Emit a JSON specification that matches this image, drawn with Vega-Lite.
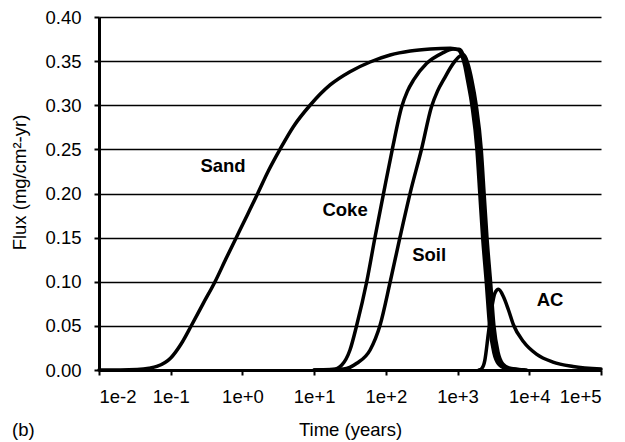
{
  "$schema": "https://vega.github.io/schema/vega-lite/v6.json",
  "width": 502,
  "height": 353,
  "autosize": "none",
  "padding": {"left": 99, "top": 17, "right": 24, "bottom": 72},
  "background": "white",
  "config": {"view": {"stroke": null}, "font": "Liberation Sans", "text": {"font": "Liberation Sans"}},
  "title": {"text": "(b)", "orient": "bottom", "anchor": "start", "frame": "group", "dx": -87, "offset": -18, "fontSize": 18.5, "fontWeight": "normal", "color": "black", "font": "Liberation Sans"},
  "datasets": {
    "curves": [
      {"series": "Sand", "t": 0.01, "flux": 0},
      {"series": "Sand", "t": 0.02, "flux": 0},
      {"series": "Sand", "t": 0.034, "flux": 0.0005},
      {"series": "Sand", "t": 0.05, "flux": 0.002},
      {"series": "Sand", "t": 0.064, "flux": 0.004},
      {"series": "Sand", "t": 0.1, "flux": 0.0136},
      {"series": "Sand", "t": 0.141, "flux": 0.03},
      {"series": "Sand", "t": 0.196, "flux": 0.051},
      {"series": "Sand", "t": 0.282, "flux": 0.075},
      {"series": "Sand", "t": 0.415, "flux": 0.1},
      {"series": "Sand", "t": 0.589, "flux": 0.126},
      {"series": "Sand", "t": 0.832, "flux": 0.151},
      {"series": "Sand", "t": 1.175, "flux": 0.176},
      {"series": "Sand", "t": 1.633, "flux": 0.2},
      {"series": "Sand", "t": 2.296, "flux": 0.2255},
      {"series": "Sand", "t": 3.34, "flux": 0.25},
      {"series": "Sand", "t": 5.13, "flux": 0.2757},
      {"series": "Sand", "t": 8.77, "flux": 0.3},
      {"series": "Sand", "t": 16.7, "flux": 0.323},
      {"series": "Sand", "t": 31.6, "flux": 0.338},
      {"series": "Sand", "t": 60.3, "flux": 0.349},
      {"series": "Sand", "t": 115, "flux": 0.357},
      {"series": "Sand", "t": 219, "flux": 0.3615},
      {"series": "Sand", "t": 417, "flux": 0.3637},
      {"series": "Sand", "t": 794, "flux": 0.3645},
      {"series": "Sand", "t": 1023, "flux": 0.3626},
      {"series": "Sand", "t": 1150, "flux": 0.356},
      {"series": "Sand", "t": 1260, "flux": 0.345},
      {"series": "Sand", "t": 1380, "flux": 0.328},
      {"series": "Sand", "t": 1585, "flux": 0.3},
      {"series": "Sand", "t": 1862, "flux": 0.25},
      {"series": "Sand", "t": 2042, "flux": 0.2},
      {"series": "Sand", "t": 2239, "flux": 0.15},
      {"series": "Sand", "t": 2512, "flux": 0.1},
      {"series": "Sand", "t": 2799, "flux": 0.05},
      {"series": "Sand", "t": 3199, "flux": 0.02},
      {"series": "Sand", "t": 3715, "flux": 0.007},
      {"series": "Sand", "t": 4677, "flux": 0.002},
      {"series": "Sand", "t": 7943, "flux": 0},
      {"series": "Coke", "t": 10, "flux": 0},
      {"series": "Coke", "t": 18.2, "flux": 0.0005},
      {"series": "Coke", "t": 24.3, "flux": 0.0057},
      {"series": "Coke", "t": 31.6, "flux": 0.0227},
      {"series": "Coke", "t": 39.3, "flux": 0.051},
      {"series": "Coke", "t": 54.1, "flux": 0.1},
      {"series": "Coke", "t": 70.8, "flux": 0.151},
      {"series": "Coke", "t": 93.3, "flux": 0.201},
      {"series": "Coke", "t": 123, "flux": 0.25},
      {"series": "Coke", "t": 166, "flux": 0.298},
      {"series": "Coke", "t": 200, "flux": 0.316},
      {"series": "Coke", "t": 245, "flux": 0.329},
      {"series": "Coke", "t": 372, "flux": 0.3475},
      {"series": "Coke", "t": 603, "flux": 0.3588},
      {"series": "Coke", "t": 871, "flux": 0.3637},
      {"series": "Coke", "t": 1050, "flux": 0.3635},
      {"series": "Coke", "t": 1200, "flux": 0.357},
      {"series": "Coke", "t": 1318, "flux": 0.345},
      {"series": "Coke", "t": 1479, "flux": 0.328},
      {"series": "Coke", "t": 1698, "flux": 0.3},
      {"series": "Coke", "t": 1995, "flux": 0.25},
      {"series": "Coke", "t": 2188, "flux": 0.2},
      {"series": "Coke", "t": 2399, "flux": 0.15},
      {"series": "Coke", "t": 2692, "flux": 0.1},
      {"series": "Coke", "t": 2999, "flux": 0.05},
      {"series": "Coke", "t": 3428, "flux": 0.02},
      {"series": "Coke", "t": 3981, "flux": 0.007},
      {"series": "Coke", "t": 5012, "flux": 0.002},
      {"series": "Coke", "t": 8511, "flux": 0},
      {"series": "Soil", "t": 10, "flux": 0},
      {"series": "Soil", "t": 25.7, "flux": 0.001},
      {"series": "Soil", "t": 39.3, "flux": 0.0076},
      {"series": "Soil", "t": 60.3, "flux": 0.0227},
      {"series": "Soil", "t": 83.2, "flux": 0.051},
      {"series": "Soil", "t": 115, "flux": 0.1},
      {"series": "Soil", "t": 158, "flux": 0.151},
      {"series": "Soil", "t": 219, "flux": 0.201},
      {"series": "Soil", "t": 316, "flux": 0.251},
      {"series": "Soil", "t": 432, "flux": 0.298},
      {"series": "Soil", "t": 525, "flux": 0.316},
      {"series": "Soil", "t": 645, "flux": 0.3295},
      {"series": "Soil", "t": 871, "flux": 0.3475},
      {"series": "Soil", "t": 1072, "flux": 0.3555},
      {"series": "Soil", "t": 1230, "flux": 0.357},
      {"series": "Soil", "t": 1380, "flux": 0.348},
      {"series": "Soil", "t": 1585, "flux": 0.328},
      {"series": "Soil", "t": 1820, "flux": 0.3},
      {"series": "Soil", "t": 2138, "flux": 0.25},
      {"series": "Soil", "t": 2344, "flux": 0.2},
      {"series": "Soil", "t": 2570, "flux": 0.15},
      {"series": "Soil", "t": 2884, "flux": 0.1},
      {"series": "Soil", "t": 3214, "flux": 0.05},
      {"series": "Soil", "t": 3673, "flux": 0.02},
      {"series": "Soil", "t": 4266, "flux": 0.007},
      {"series": "Soil", "t": 5370, "flux": 0.002},
      {"series": "Soil", "t": 9120, "flux": 0},
      {"series": "AC", "t": 1995, "flux": 0},
      {"series": "AC", "t": 2188, "flux": 0.002},
      {"series": "AC", "t": 2399, "flux": 0.011},
      {"series": "AC", "t": 2692, "flux": 0.042},
      {"series": "AC", "t": 3020, "flux": 0.072},
      {"series": "AC", "t": 3311, "flux": 0.087},
      {"series": "AC", "t": 3715, "flux": 0.0914},
      {"series": "AC", "t": 4365, "flux": 0.083},
      {"series": "AC", "t": 5129, "flux": 0.068},
      {"series": "AC", "t": 6026, "flux": 0.051},
      {"series": "AC", "t": 8318, "flux": 0.032},
      {"series": "AC", "t": 12589, "flux": 0.018},
      {"series": "AC", "t": 21380, "flux": 0.009},
      {"series": "AC", "t": 40738, "flux": 0.004},
      {"series": "AC", "t": 100000, "flux": 0.001}
    ],
    "labels": [
      {"label": "Sand", "t": 0.536, "flux": 0.2306},
      {"label": "Coke", "t": 27.0, "flux": 0.1813},
      {"label": "Soil", "t": 401, "flux": 0.1303},
      {"label": "AC", "t": 19500, "flux": 0.0793}
    ]
  },
  "layer": [
    {
      "data": {"name": "curves"},
      "mark": {"type": "line", "interpolate": "monotone", "color": "black", "strokeCap": "round", "strokeJoin": "round"},
      "encoding": {
        "x": {
          "field": "t", "type": "quantitative",
          "scale": {"type": "log", "domain": [0.01, 100000]},
          "axis": {
            "values": [0.01, 0.1, 1, 10, 100, 1000, 10000, 100000],
            "labelExpr": "'1e' + (round(log(datum.value)/LN10) >= 0 ? '+' : '') + round(log(datum.value)/LN10)",
            "grid": false,
            "labelFontSize": 18.5, "labelColor": "black", "labelFont": "Liberation Sans",
            "labelPadding": 12,
            "domainColor": "black", "domainWidth": 3,
            "tickColor": "black", "tickWidth": 2, "tickSize": 5,
            "title": "Time (years)", "titleFontSize": 18.5, "titleFontWeight": "normal", "titleColor": "black", "titleFont": "Liberation Sans",
            "titleBaseline": "alphabetic", "titleY": 65
          }
        },
        "y": {
          "field": "flux", "type": "quantitative",
          "scale": {"domain": [0, 0.4]},
          "axis": {
            "values": [0, 0.05, 0.1, 0.15, 0.2, 0.25, 0.3, 0.35, 0.4],
            "format": ".2f",
            "grid": true, "gridColor": "black", "gridWidth": 1.5, "gridOpacity": 1,
            "labelFontSize": 18.5, "labelColor": "black", "labelFont": "Liberation Sans",
            "labelPadding": 13,
            "domainColor": "black", "domainWidth": 3,
            "tickColor": "black", "tickWidth": 2, "tickSize": 5,
            "title": "Flux (mg/cm²-yr)", "titleFontSize": 18.5, "titleFontWeight": "normal", "titleColor": "black", "titleFont": "Liberation Sans",
            "titleBaseline": "middle", "titleX": -80, "titleY": 165, "titleAngle": -90, "titleAlign": "center"
          }
        },
        "detail": {"field": "series", "type": "nominal"},
        "order": {"field": "t", "type": "quantitative"},
        "strokeWidth": {"field": "series", "type": "nominal", "scale": {"domain": ["Sand", "Coke", "Soil", "AC"], "range": [3.5, 3.5, 3.5, 2.5]}, "legend": null}
      }
    },
    {
      "data": {"name": "labels"},
      "mark": {"type": "text", "fontWeight": "bold", "fontSize": 18.5, "color": "black", "font": "Liberation Sans", "baseline": "middle", "align": "center"},
      "encoding": {
        "x": {"field": "t", "type": "quantitative", "scale": {"type": "log", "domain": [0.01, 100000]}},
        "y": {"field": "flux", "type": "quantitative", "scale": {"domain": [0, 0.4]}},
        "text": {"field": "label", "type": "nominal"}
      }
    }
  ]
}
